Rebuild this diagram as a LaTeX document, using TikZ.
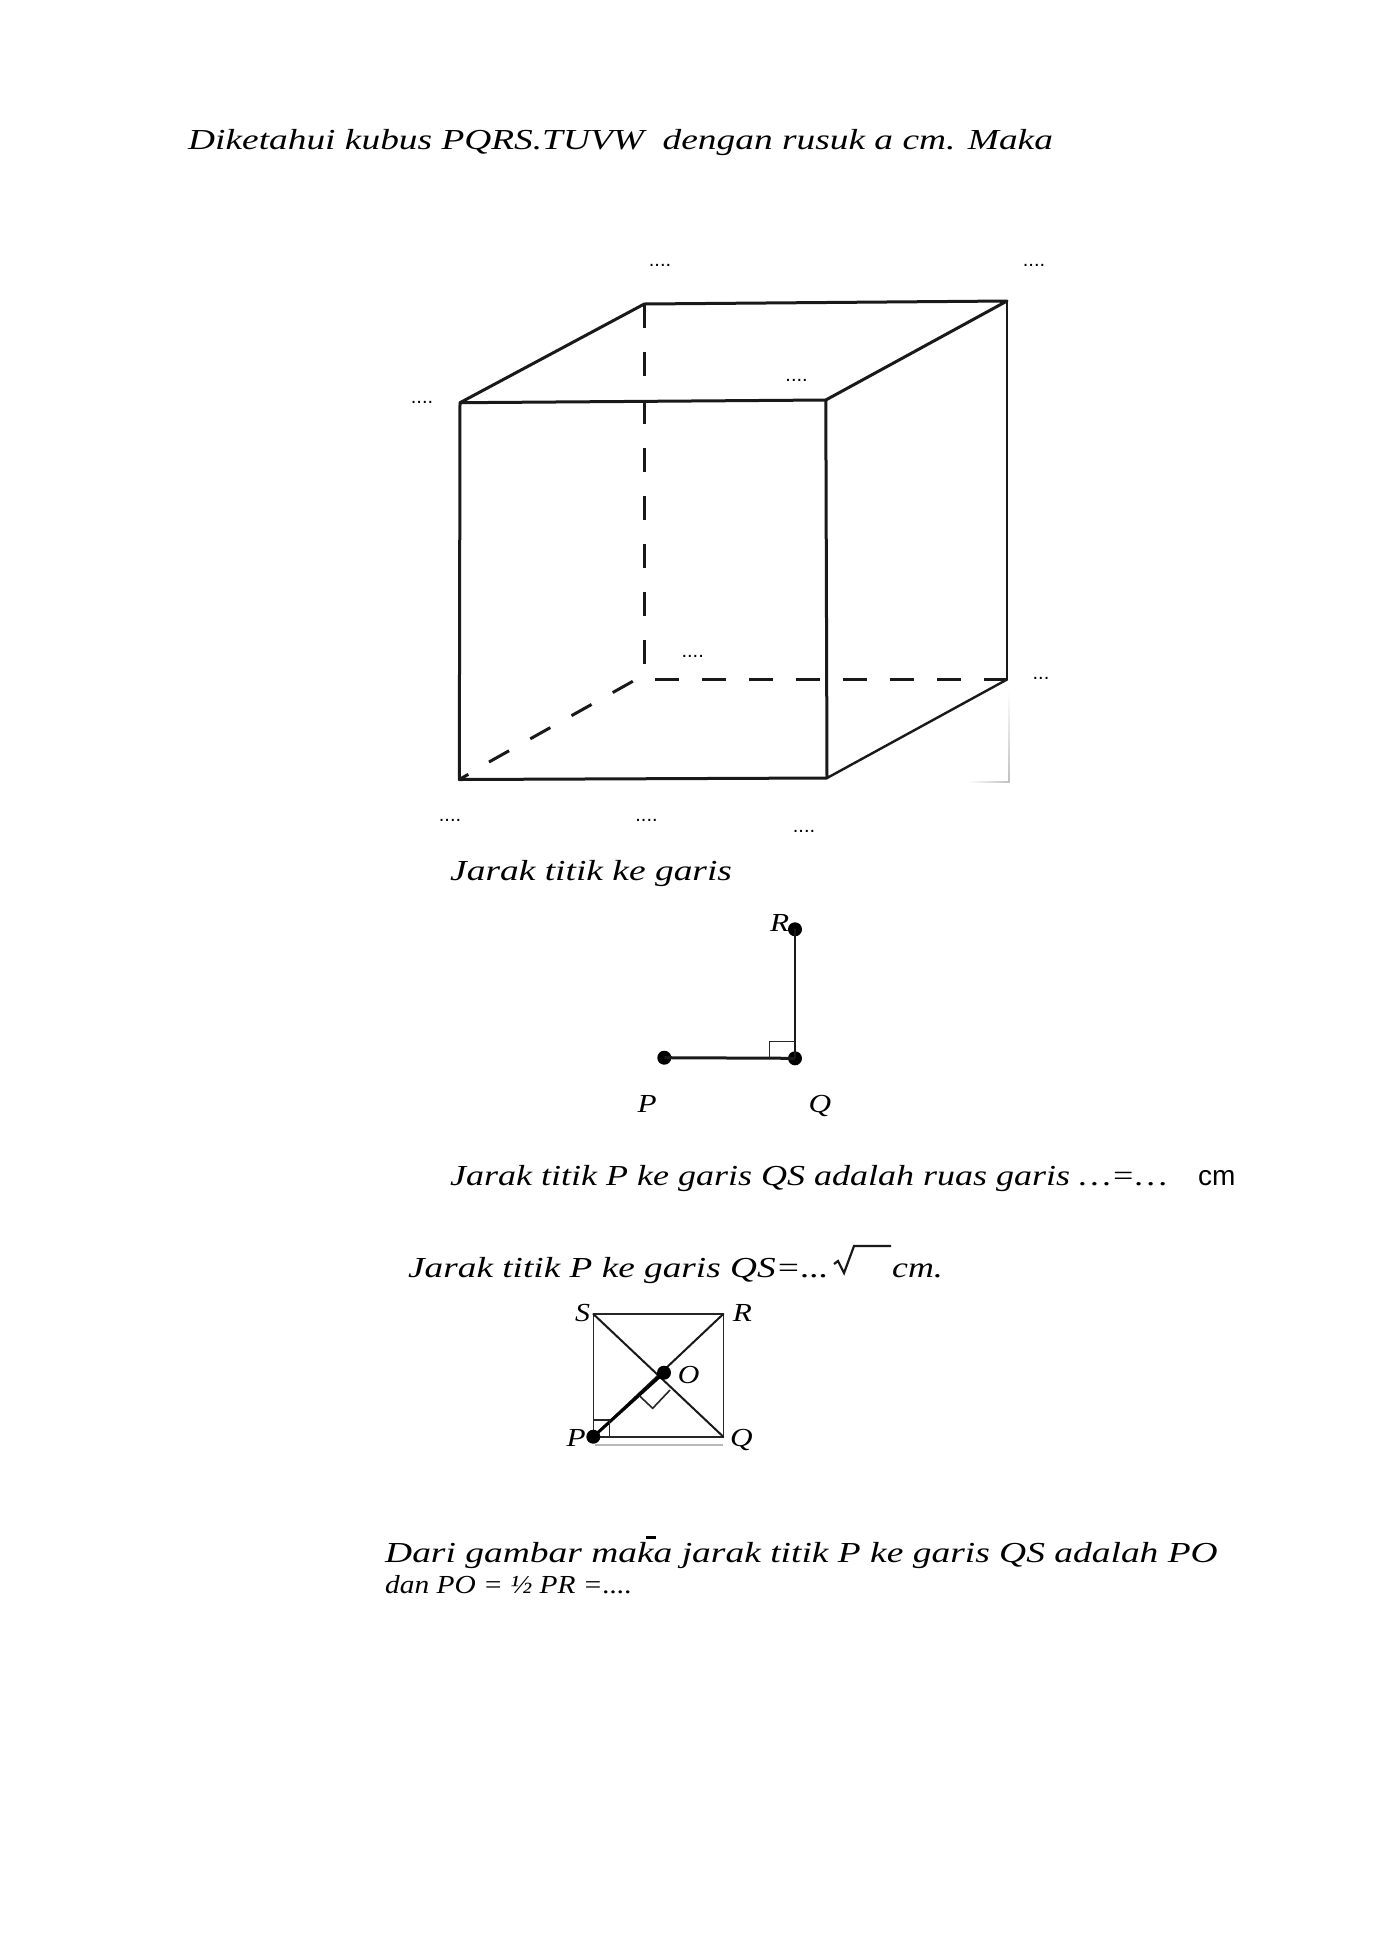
\documentclass[tikz,border=0pt]{standalone}
\usepackage{graphicx}
\usepackage{fontspec}
\setmainfont{Liberation Serif}
\newfontfamily\lsans{Liberation Sans}
\newcommand{\fs}[1]{\fontsize{#1}{#1}\selectfont}
\newcommand{\sx}[2]{\scalebox{#1}[1]{#2}}
\begin{document}
\begin{tikzpicture}[x=1pt,y=-1pt,
  txt/.style={inner sep=0pt,anchor=base west,font=\fs{29}\itshape},
  lab/.style={inner sep=0pt,anchor=base west,font=\fs{26}\itshape},
  dots/.style={inner sep=0pt,anchor=center,font=\lsans\fs{20}},
  edge/.style={line width=3pt,line cap=round,line join=round,black!90},
  thin edge/.style={line width=2.4pt,line cap=round,black!90},
  ptdot/.style={circle,fill=black,inner sep=0pt,minimum size=14pt},
  fine/.style={line width=1.4pt,black!85}]
\useasboundingbox (0,0) rectangle (1377,1947);
\fill[white] (0,0) rectangle (1377,1947);
% text
\node[txt] (title) at (188,149.5) {\sx{1.289}{Diketahui kubus PQRS.TUVW\ \ dengan rusuk a cm. Maka}};
\node[txt] (t1) at (450,880) {\sx{1.291}{Jarak titik ke garis}};
\node[txt] (t2) at (450,1185) {\sx{1.241}{Jarak titik P ke garis QS adalah ruas garis \ldots=\ldots}};
\node[inner sep=0pt,anchor=base west,font=\lsans\fs{28}] (t2b) at (1198,1185) {cm};
\node[txt] (t3) at (408,1277) {\sx{1.285}{Jarak titik P ke garis QS=...}};
\node[txt] (t3b) at (892,1277) {\sx{1.235}{cm.}};
\node[txt] (t4) at (385,1562) {\sx{1.292}{Dari gambar maka jarak titik P ke garis QS adalah PO}};
\node[inner sep=0pt,anchor=base west,font=\fs{26}\itshape] (t5) at (385,1593) {\sx{1.13}{dan PO = ½ PR =....}};
% cube
\coordinate (A) at (459.3,779.5);
\coordinate (B) at (827,778);
\coordinate (C) at (1007,679.5);
\coordinate (E) at (460,402.7);
\coordinate (F) at (825.8,400);
\coordinate (G) at (1007,301);
\coordinate (H) at (644.3,304);
\draw[edge] (A) -- (B) -- (F) -- (E) -- cycle;
\draw[edge] (E) -- (H) -- (G) -- (F);
\draw[thin edge] (G) -- (C);
\draw[thin edge] (B) -- (C);
% faded lines at the lower right corner
\shade[top color=white,bottom color=black!25] (1008.4,690) rectangle (1009.8,782.8);
\shade[left color=white,right color=black!25] (968,781.4) rectangle (1009.8,782.8);
% hidden edges
\coordinate (HC) at (644.3,664);
\draw[edge,line cap=butt,dash pattern=on 24pt off 24pt] (H) -- (HC);
\coordinate (DA) at (655.3,679);
\coordinate (DB) at (1007,679);
\draw[edge,line cap=butt,dash pattern=on 23.5pt off 23.5pt] (DA) -- (DB);
\coordinate (SA) at (468.3,774.3);
\coordinate (SB) at (489,762);
\coordinate (SC) at (633.3,681);
\draw[edge,line cap=butt] (A) -- (SA);
\draw[edge,line cap=butt,dash pattern=on 23pt off 24.3pt] (SB) -- (SC);
% dots labels
\node[dots] (n1) at (660,265) {....};
\node[dots] (n2) at (1034,265) {....};
\node[dots] (n3) at (796.6,380) {....};
\node[dots] (n4) at (422,402) {....};
\node[dots] (n5) at (692.7,656) {....};
\node[dots] (n6) at (1041,678) {...};
\node[dots] (n7) at (450,820) {....};
\node[dots] (n8) at (646.5,820) {....};
\node[dots] (n9) at (804,831) {....};
% point to line
\node[ptdot] (R1) at (795,929.3) {};
\node[ptdot] (Q1) at (795,1058.3) {};
\node[ptdot] (P1) at (664.3,1057.7) {};
\draw[line width=3pt,black!90] (P1.center) -- (Q1.center);
\draw[line width=2.8pt,black!90] (Q1.center) -- (R1.center);
\coordinate (m1) at (769.3,1058);
\coordinate (m2) at (769.3,1041.7);
\coordinate (m3) at (795,1041.7);
\draw[fine] (m1) -- (m2) -- (m3);
\node[lab] (lR1) at (770,931) {\sx{1.2}{R}};
\node[lab] (lP1) at (637.3,1112) {\sx{1.2}{P}};
\node[lab] (lQ1) at (808.3,1112) {\sx{1.2}{Q}};
% sqrt
\coordinate (r0) at (834,1264);
\coordinate (r1) at (838,1261);
\coordinate (r2) at (844,1273);
\coordinate (r3) at (854,1246);
\coordinate (r4) at (891,1246);
\draw[line width=2.2pt,black!90] (r0) -- (r1) -- (r2) -- (r3) -- (r4);
% square
\coordinate (S2) at (593.3,1314);
\coordinate (R2) at (723.3,1314);
\coordinate (Q2) at (723.3,1436.7);
\coordinate (P2c) at (593.3,1436.7);
\draw[fine,line width=1.6pt] (S2) -- (R2) -- (Q2) -- (P2c) -- cycle;
\draw[thin edge,line width=2pt] (S2) -- (Q2);
\draw[thin edge,line width=2pt] (P2c) -- (R2);
\node[ptdot] (O2) at (664,1372.7) {};
\node[ptdot] (P2) at (593.3,1436.7) {};
\draw[line width=3pt,black] (P2.center) -- (O2.center);
\coordinate (g1) at (595,1444.7);
\coordinate (g2) at (723.3,1444.7);
\draw[black!28,line width=1.8pt] (g1) -- (g2);
\coordinate (a1) at (609.3,1436.7);
\coordinate (a2) at (609.3,1420);
\coordinate (a3) at (593.3,1420);
\draw[fine] (a1) -- (a2) -- (a3);
\coordinate (b1) at (639.3,1395.7);
\coordinate (b2) at (652.7,1408.3);
\coordinate (b3) at (670,1390);
\draw[fine,line width=1.6pt] (b1) -- (b2) -- (b3);
\node[lab] (lS) at (575,1321) {\sx{1.15}{S}};
\node[lab] (lR) at (732.7,1321) {\sx{1.2}{R}};
\node[lab] (lO) at (677.7,1383) {\sx{1.15}{O}};
\node[lab] (lP) at (566.5,1446) {\sx{1.2}{P}};
\node[lab] (lQ) at (730,1446) {\sx{1.2}{Q}};
% stray bar above "maka"
\coordinate (o1) at (646,1537.5);
\coordinate (o2) at (656,1537.5);
\draw[line width=2.2pt] (o1) -- (o2);
\end{tikzpicture}
\end{document}
